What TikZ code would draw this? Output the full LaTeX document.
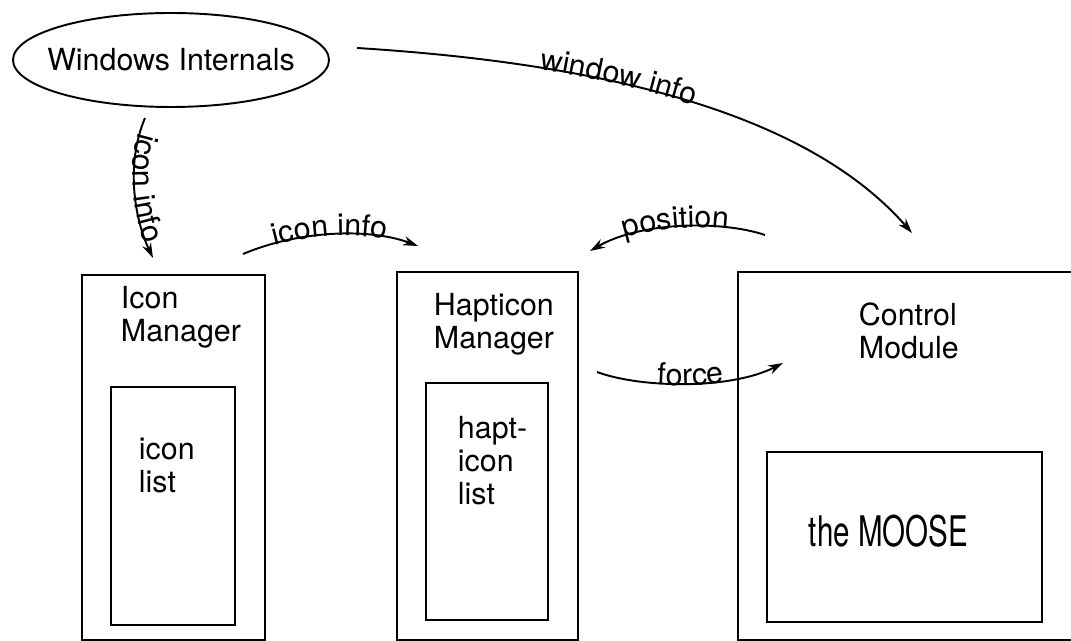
\documentclass[tikz,border=0pt]{standalone}
\usepackage{fontspec}
\setmainfont{TeX Gyre Heros}
\usetikzlibrary{arrows.meta, shapes.geometric, decorations.text}
\newcommand{\lblfont}{\fontsize{17.3}{18.8}\selectfont}
\tikzset{
  every picture/.style={font=\lblfont, line width=1.1pt},
  box/.style args={#1 by #2}{draw, rectangle, inner sep=0pt, minimum width=#1, minimum height=#2},
  txt/.style={anchor=base west, align=left, inner sep=0pt},
  link/.style={-{Stealth[length=3mm, width=1.9mm]}},
  % label written along a curve: #1 alignment, #2 text
  along/.style 2 args={decorate, decoration={text along path, text={|\lblfont|#2},
    text align={#1}, raise=-1pt}},
}

\begin{document}
\begin{tikzpicture}
  \useasboundingbox (0,0) rectangle (21.42,12.82);

  % source of the window data
  \node[ellipse, draw, minimum width=6.32cm, minimum height=1.88cm] (winint) at (3.42,11.62) {};
  \node (wintxt) at (winint) {Windows Internals};

  % the three modules, each with its inner part
  \node[box=3.66cm by 7.30cm] (iconmgr) at (3.47,3.67) {};
  \node[box=2.48cm by 4.76cm] (iconlist) at (3.46,2.70) {};
  \node[txt] (iconmgrtxt) at (2.40,5.98) {Icon\\Manager};
  \node[txt] (iconlisttxt) at (2.76,2.96) {icon\\list};

  \node[box=3.62cm by 7.36cm] (hapmgr) at (9.75,3.70) {};
  \node[box=2.44cm by 4.74cm] (haplist) at (9.74,2.79) {};
  \node[txt] (hapmgrtxt) at (8.66,5.84) {Hapticon\\Manager};
  \node[txt] (haplisttxt) at (9.14,2.72) {hapt-\\icon\\list};

  \node[box=6.94cm by 7.36cm] (ctrl) at (18.23,3.70) {};
  \node[box=5.50cm by 3.40cm] (moose) at (18.09,2.08) {};
  \node[txt] (ctrltxt) at (17.16,5.64) {Control\\Module};
  \node[txt] (moosetxt) at (16.16,1.88) {\scalebox{0.7}[1]{\fontsize{24}{28}\selectfont the MOOSE}};

  % loose ends of the curved arrows
  \coordinate (wiA) at (7.14,11.86);  \coordinate (wiB) at (18.24,8.16);
  \coordinate (icA) at (2.90,10.46);  \coordinate (icB) at (3.06,7.66);
  \coordinate (ihA) at (4.86,7.74);   \coordinate (ihB) at (8.36,7.90);
  \coordinate (poA) at (15.30,8.12);  \coordinate (poB) at (11.80,7.80);
  \coordinate (foA) at (11.94,5.38);  \coordinate (foB) at (15.66,5.56);

  \draw[link] (wiA) .. controls (11.60,11.58) and (16.00,10.72) .. (wiB);
  \path[along={left indent=3.68cm}{window info}] (wiA) .. controls (11.60,11.58) and (16.00,10.72) .. (wiB);

  \draw[link] (icA) .. controls (2.50,9.52) and (2.70,8.42) .. (icB);
  \path[along={center}{icon info}] (icA) .. controls (2.50,9.52) and (2.70,8.42) .. (icB);

  \draw[link] (ihA) .. controls (6.00,8.22) and (7.40,8.26) .. (ihB);
  \path[along={center}{icon info}] (ihA) .. controls (6.00,8.22) and (7.40,8.26) .. (ihB);

  % drawn right to left, text runs left to right
  \draw[link] (poA) .. controls (14.40,8.42) and (12.80,8.38) .. (poB);
  \path[along={center}{position}] (poB) .. controls (12.80,8.38) and (14.40,8.42) .. (poA);

  \draw[link] (foA) .. controls (12.80,5.06) and (14.60,5.02) .. (foB);
  \path[along={center}{force}] (foA) .. controls (12.80,5.06) and (14.60,5.02) .. (foB);
\end{tikzpicture}
\end{document}
